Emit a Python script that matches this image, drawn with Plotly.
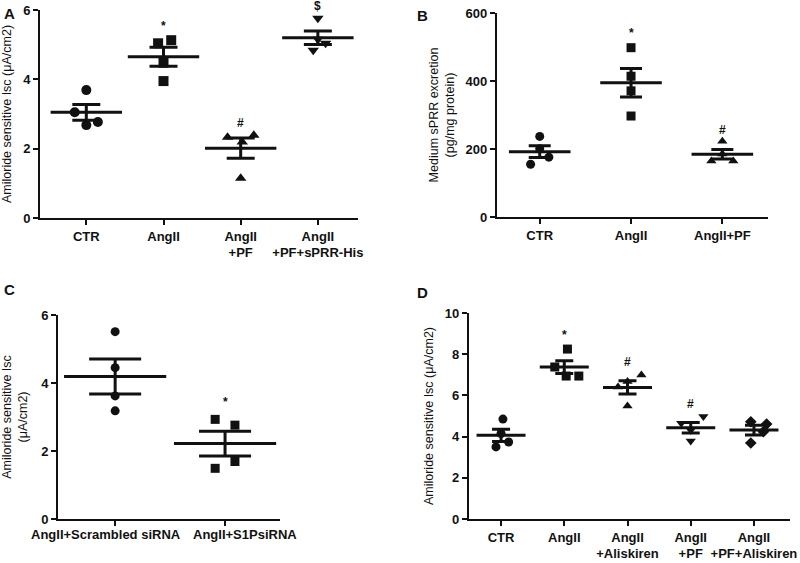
import numpy as np
import plotly.graph_objects as go

# ---------------- DATA ----------------
# Panel A
A_CATS = ["CTR", "AngII", "AngII<br>+PF", "AngII<br>+PF+sPRR-His"]
A_CTR = [3.69, 3.05, 2.68, 2.77]
A_ANG = [5.04, 5.13, 4.48, 3.95]
A_PF = [2.33, 2.39, 2.19, 1.15]
A_HIS = [5.76, 4.84, 5.04, 5.16]
A_SIG = ["", "*", "#", "$"]
A_SIG_Y = [None, 5.55, 2.75, 5.99]

# Panel B
B_CATS = ["CTR", "AngII", "AngII+PF"]
B_CTR = [237, 155, 176, 201]
B_ANG = [498, 414, 371, 297]
B_PF = [223, 165, 165, 185]
B_SIG = ["", "*", "#"]
B_SIG_Y = [None, 540, 256]

# Panel C
C_CATS = ["AngII+Scrambled siRNA", "AngII+S1PsiRNA"]
C_SCR = [5.51, 4.45, 3.62, 3.18]
C_S1P = [2.93, 2.76, 1.69, 1.49]
C_SIG = ["", "*"]
C_SIG_Y = [None, 3.45]

# Panel D
D_CATS = ["CTR", "AngII", "AngII<br>+Aliskiren", "AngII<br>+PF", "AngII<br>+PF+Aliskiren"]
D_CTR = [4.85, 4.15, 3.50, 3.74]
D_ANG = [8.25, 7.38, 6.94, 6.94]
D_ALI = [6.99, 6.67, 6.41, 5.49]
D_PF = [4.97, 4.31, 4.65, 3.79]
D_PFALI = [4.72, 4.24, 4.61, 3.69]
D_SIG = ["", "*", "#", "#", ""]
D_SIG_Y = [None, 8.95, 7.6, 5.6, None]

# ---------------- STYLE ----------------
BLACK = "#111111"
FONT = "Liberation Sans, Arial, sans-serif"
# horizontal spread of replicate points (GraphPad-style scatter), in category units
JIT_A = [[0.0, -0.15, 0.0, 0.15], [-0.07, 0.1, 0.0, 0.0], [-0.17, 0.17, 0.02, 0.0], [0.0, -0.06, 0.1, 0.0]]
JIT_B = [[0.0, -0.1, 0.1, 0.0], [0.0, 0.0, 0.0, 0.0], [0.0, -0.12, 0.12, 0.0]]
JIT_C = [[0.0, 0.0, 0.0, 0.0], [-0.09, 0.09, 0.09, -0.09]]
JIT_D = [[0.03, 0.0, -0.08, 0.12], [0.05, -0.15, 0.03, 0.23], [0.22, 0.0, -0.15, 0.0],
         [0.2, 0.0, -0.15, 0.0], [-0.05, 0.15, 0.2, -0.05]]
# panel C category labels are drawn slightly off-centre in the original
C_LABEL_SHIFT = [-0.08, 0.18]

fig = go.Figure()


def add_panel(k, groups, symbols, jit, msize, mean_w, cap_w):
    xa = "x" if k == 1 else f"x{k}"
    ya = "y" if k == 1 else f"y{k}"
    for i, (vals, sym) in enumerate(zip(groups, symbols)):
        v = np.array(vals, dtype=float)
        xs = [i + j for j in jit[i]]
        fig.add_trace(go.Scatter(
            x=xs, y=v, mode="markers", xaxis=xa, yaxis=ya, showlegend=False,
            marker=dict(symbol=sym, size=msize, color=BLACK, line=dict(width=0)),
            cliponaxis=False))
        m = v.mean()
        sem = v.std(ddof=1) / np.sqrt(len(v))
        fig.add_trace(go.Scatter(
            x=[i], y=[m], mode="markers", xaxis=xa, yaxis=ya, showlegend=False,
            marker=dict(symbol="line-ew", size=mean_w, color=BLACK,
                        line=dict(width=3, color=BLACK)),
            error_y=dict(type="data", array=[sem], visible=True, width=cap_w,
                         thickness=3, color=BLACK)))


add_panel(1, [A_CTR, A_ANG, A_PF, A_HIS],
          ["circle", "square", "triangle-up", "triangle-down"], JIT_A, 10, 51, 14)
add_panel(2, [B_CTR, B_ANG, B_PF],
          ["circle", "square", "triangle-up"], JIT_B, 9, 44, 11)
add_panel(3, [C_SCR, C_S1P], ["circle", "square"], JIT_C, 9, 73, 26)
add_panel(4, [D_CTR, D_ANG, D_ALI, D_PF, D_PFALI],
          ["circle", "square", "triangle-up", "triangle-down", "diamond"], JIT_D, 9, 35, 9)

ann = []
for k, sig, sy in [(1, A_SIG, A_SIG_Y), (2, B_SIG, B_SIG_Y), (3, C_SIG, C_SIG_Y), (4, D_SIG, D_SIG_Y)]:
    xr = "x" if k == 1 else f"x{k}"
    yr = "y" if k == 1 else f"y{k}"
    for i, (s, y) in enumerate(zip(sig, sy)):
        if s:
            ann.append(dict(x=i, y=y, xref=xr, yref=yr, text=f"<b>{s}</b>", showarrow=False,
                            yshift=4 if s == "$" else 0,
                            font=dict(family=FONT, size=12, color=BLACK)))

# panel C category labels
for i, lab in enumerate(C_CATS):
    ann.append(dict(x=i + C_LABEL_SHIFT[i], y=0.068, xref="x3", yref="paper", text=f"<b>{lab}</b>",
                    showarrow=False, yanchor="top",
                    font=dict(family=FONT, size=13, color=BLACK)))

for lab, x, y in [("A", 0.002, 0.995), ("B", 0.519, 0.992), ("C", 0.002, 0.505), ("D", 0.519, 0.5)]:
    ann.append(dict(x=x, y=y, xref="paper", yref="paper", text=f"<b>{lab}</b>",
                    showarrow=False, xanchor="left", yanchor="top",
                    font=dict(family=FONT, size=15, color=BLACK)))

tickfont = dict(family=FONT, size=13, color=BLACK, weight="bold")
titlefont = dict(family=FONT, size=12.5, color=BLACK)


def xaxis(dom, rng, cats, anchor, show=True):
    return dict(domain=dom, range=rng, anchor=anchor, tickmode="array",
                tickvals=list(range(len(cats))), ticktext=cats, showticklabels=show,
                tickangle=0, showgrid=False, automargin=False,
                zeroline=False, showline=True, linecolor=BLACK, linewidth=2,
                ticks="outside", ticklen=5, tickwidth=2, tickcolor=BLACK,
                tickfont=tickfont, fixedrange=True)


def yaxis(dom, rng, dtick, title, anchor, standoff):
    return dict(domain=dom, range=rng, anchor=anchor, dtick=dtick, showgrid=False,
                automargin=False,
                zeroline=False, showline=True, linecolor=BLACK, linewidth=2,
                ticks="outside", ticklen=5, tickwidth=2, tickcolor=BLACK,
                tickfont=tickfont, title=dict(text=title, font=titlefont, standoff=standoff))


fig.update_layout(
    width=800, height=563, margin=dict(l=0, r=0, t=0, b=0),
    paper_bgcolor="white", plot_bgcolor="white",
    xaxis=xaxis([0.05, 0.4475], [-0.6, 3.52], A_CATS, "y"),
    yaxis=yaxis([0.6128, 0.9822], [0, 6], 2, "Amiloride sensitive Isc (μA/cm2)", "x", 10),
    xaxis2=xaxis([0.621, 0.96], [-0.47, 2.5], B_CATS, "y2"),
    yaxis2=yaxis([0.6146, 0.9769], [0, 600], 200,
                 "Medium sPRR excretion<br>(pg/mg protein)", "x2", 8),
    xaxis3=xaxis([0.0725, 0.35], [-0.52, 1.5], C_CATS, "y3", show=False),
    yaxis3=yaxis([0.0782, 0.4405], [0, 6], 2, "Amiloride sensitive Isc<br>(μA/cm2)", "x3", 12),
    xaxis4=xaxis([0.586, 0.9875], [-0.51, 4.57], D_CATS, "y4"),
    yaxis4=yaxis([0.0782, 0.444], [0, 10], 2, "Amiloride sensitive Isc (μA/cm2)", "x4", 8),
    annotations=ann,
)

fig.write_html("out.html", config={"displayModeBar": False},
               post_script="document.body.style.margin='0';document.body.style.overflow='hidden';")
